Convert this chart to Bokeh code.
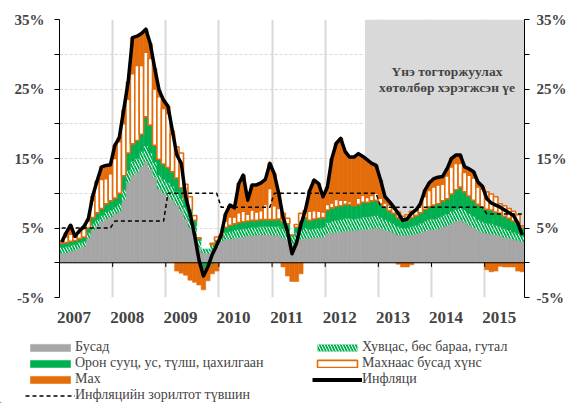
import numpy as np
from bokeh.plotting import figure
from bokeh.layouts import column
from bokeh.models import (Range1d, LinearAxis, FixedTicker, CustomJSTickFormatter,
                          Span, Legend, LegendItem, Label, ColumnDataSource)
from bokeh.embed import file_html
from bokeh.resources import INLINE

# ---------------- data (monthly, Jan 2007 - Sep 2015) ----------------
first_year = 2007
inflation = [3.0, 4.3, 5.4, 3.8, 4.6, 5.2, 6.3, 9.6, 11.8, 13.8, 14.0, 14.1,
             16.9, 18.0, 22.0, 26.0, 32.4, 32.6, 33.0, 33.6, 31.5, 28.0, 24.8, 23.4,
             22.5, 19.0, 15.5, 14.3, 9.5, 7.0, 4.0, 0.4, -1.9, -0.6, 1.2, 2.5,
             4.0, 7.0, 8.3, 7.9, 11.4, 12.6, 9.0, 11.2, 11.2, 11.5, 12.0, 14.3,
             12.8, 10.0, 6.5, 4.5, 1.3, 2.8, 5.5, 7.5, 10.4, 11.9, 11.4, 9.5,
             10.9, 15.0, 17.2, 17.9, 16.0, 15.2, 15.2, 15.7, 15.3, 14.8, 14.3, 14.0,
             11.9, 9.5, 8.8, 8.0, 7.1, 6.1, 6.3, 7.1, 7.6, 8.5, 10.4, 11.5,
             12.1, 12.3, 12.4, 13.5, 15.0, 15.5, 15.5, 13.8, 13.5, 13.1, 11.6, 11.0,
             9.2, 8.6, 8.3, 8.0, 7.6, 7.2, 6.8, 5.7, 4.0]

target_by_year = [5, 6, 10, 8, 10, 10, 8, 8, 7]
months_by_year = [12, 12, 12, 12, 12, 12, 12, 12, 9]

other = [1.3, 1.4, 1.6, 1.8, 2.1, 2.3, 3.5, 4.7, 5.3, 5.9, 6.3, 6.6,
         7.0, 7.3, 9.0, 11.5, 12.6, 13.0, 13.8, 14.5, 13.5, 12.3, 10.6, 10.0,
         9.5, 9.0, 8.3, 7.5, 6.3, 5.0, 4.0, 2.2, 1.4, 1.3, 1.8, 2.2,
         3.0, 3.3, 3.4, 3.5, 3.6, 3.7, 3.8, 3.9, 3.9, 4.0, 4.0, 4.0,
         3.9, 3.9, 3.6, 3.3, 2.6, 3.0, 3.3, 3.5, 3.5, 3.6, 3.6, 3.7,
         4.2, 4.3, 4.3, 4.4, 4.5, 4.6, 4.6, 4.7, 4.8, 4.8, 4.9, 5.0,
         4.9, 4.7, 4.5, 4.3, 4.0, 3.9, 3.9, 4.0, 4.1, 4.3, 4.5, 4.7,
         4.7, 4.9, 5.1, 5.3, 5.6, 5.9, 6.1, 5.8, 5.4, 5.0, 4.6, 4.3,
         4.2, 4.1, 4.0, 3.8, 3.6, 3.5, 3.3, 3.2, 3.0]

clothing = [0.9, 0.9, 0.9, 0.8, 0.8, 0.8, 0.8, 0.9, 0.9, 0.9, 1.0, 1.0,
            1.0, 1.2, 1.5, 1.8, 2.0, 2.0, 2.2, 2.3, 2.3, 2.2, 2.0, 2.0,
            2.0, 2.0, 1.9, 1.8, 1.7, 1.6, 1.3, 1.0, 0.6, 0.7, 0.8, 0.8,
            0.6, 1.0, 1.1, 1.2, 1.2, 1.2, 1.2, 1.2, 1.2, 1.2, 1.2, 1.2,
            1.3, 1.3, 1.3, 1.3, 1.2, 1.3, 1.4, 1.5, 1.3, 1.3, 1.4, 1.4,
            1.6, 1.7, 1.8, 1.8, 1.9, 1.8, 1.7, 1.7, 1.8, 1.8, 1.8, 1.8,
            1.6, 1.5, 1.4, 1.3, 1.2, 1.1, 1.1, 1.2, 1.3, 1.4, 1.5, 1.6,
            1.6, 1.6, 1.7, 1.7, 1.8, 1.8, 1.8, 1.8, 1.7, 1.7, 1.6, 1.6,
            1.5, 1.5, 1.4, 1.4, 1.3, 1.2, 1.1, 1.0, 0.8]

housing = [0.6, 0.6, 0.6, 0.6, 0.6, 0.6, 0.7, 0.9, 1.0, 1.0, 1.2, 1.3,
           1.3, 1.5, 2.0, 2.5, 2.5, 2.6, 2.5, 4.2, 4.0, 2.4, 2.3, 2.2,
           2.2, 2.1, 2.0, 1.5, 1.3, 1.0, 0.8, 0.3, -1.0, -0.6, -0.3, 0.2,
           0.2, 0.8, 0.9, 0.9, 1.0, 1.0, 1.0, 1.0, 1.0, 1.0, 1.0, 1.0,
           1.0, 1.1, 1.0, 1.0, 0.2, 0.8, 1.2, 1.5, 1.3, 1.4, 1.4, 1.4,
           1.8, 1.9, 2.0, 2.0, 2.0, 2.0, 1.9, 2.0, 2.1, 2.1, 2.2, 2.2,
           2.0, 1.8, 1.6, 1.5, 1.3, 1.1, 1.2, 1.3, 1.4, 1.5, 1.7, 1.8,
           2.0, 2.0, 2.1, 2.2, 2.5, 2.8, 3.0, 2.6, 2.5, 2.3, 2.2, 2.1,
           2.0, 2.0, 1.9, 1.9, 1.8, 1.7, 1.6, 1.5, 1.2]

food_nonmeat = [0.2, 0.8, 1.0, 0.5, 0.8, 1.2, 1.0, 2.5, 4.4, 4.2, 3.6, 3.9,
                5.7, 7.4, 7.5, 7.7, 10.1, 10.8, 9.9, 9.3, 9.6, 8.1, 9.0, 8.0,
                7.8, 5.4, 4.5, 5.0, 2.0, 1.9, 0.7, 0.1, -0.4, -0.4, 0.2, 0.5,
                0.2, 0.9, 1.2, 1.0, 1.4, 1.5, 1.0, 1.5, 1.2, 1.3, 2.2, 4.5,
                2.0, 1.5, 1.2, 0.8, 0.0, 0.4, 1.2, 1.0, 1.3, 1.2, 1.0, 0.8,
                0.8, 0.7, 1.0, 0.8, 0.6, 0.4, 0.2, 0.9, 1.0, 0.7, 0.8, 1.0,
                0.8, 0.6, 0.8, 0.7, 0.8, 0.6, 0.7, 0.9, 0.8, 1.0, 1.8, 2.3,
                2.6, 2.7, 2.4, 3.3, 3.9, 3.8, 3.4, 2.8, 3.0, 3.2, 2.5, 2.6,
                2.5, 2.3, 2.2, 1.4, 1.5, 1.4, 1.4, 1.2, 0.3]

meat = [0.0, 0.6, 1.3, 0.1, 0.3, 0.3, 0.3, 0.6, 0.2, 1.8, 1.9, 1.3,
        1.9, 0.6, 2.0, 2.5, 5.2, 4.2, 4.6, 3.3, 2.1, 3.0, 0.9, 1.2,
        1.0, 0.5, -1.2, -1.5, -1.8, -2.5, -2.8, -3.2, -2.5, -1.6, -1.3, -1.2,
        0.0, 1.0, 1.7, 1.3, 4.2, 5.2, 2.0, 3.6, 3.9, 4.0, 3.6, 3.6,
        4.6, 2.2, -0.6, -1.9, -2.7, -2.7, -1.6, 0.0, 3.0, 4.4, 4.0, 2.2,
        2.5, 6.4, 8.1, 8.9, 7.0, 6.4, 6.8, 6.4, 5.6, 5.4, 4.6, 4.0,
        2.6, 0.9, 0.5, 0.2, -0.2, -0.6, -0.6, -0.3, 0.0, 0.3, 0.9, 1.1,
        1.2, 1.1, 1.1, 1.0, 1.2, 1.2, 1.2, 0.8, 0.9, 0.9, 0.7, 0.4,
        -1.0, -1.3, -1.2, -0.5, -0.6, -0.6, -0.6, -1.2, -1.3]

programme_start = (2012, 10)   # price stabilisation programme from Oct 2012

labels = {
    "other": "Бусад",
    "clothing": "Хувцас, бөс бараа, гутал",
    "housing": "Орон сууц, ус, түлш, цахилгаан",
    "food": "Махнаас бусад хүнс",
    "meat": "Мах",
    "infl": "Инфляци",
    "target": "Инфляцийн зорилтот түвшин",
}
note_lines = ["Үнэ тогторжуулах", "хөтөлбөр хэрэгжсэн үе"]

# ---------------- derived ----------------
n = len(inflation)
x = np.arange(n)
target = np.repeat(target_by_year, months_by_year)
prog_idx = (programme_start[0] - first_year) * 12 + programme_start[1] - 1

GREY = "#A6A6A6"
GREEN = "#00B050"
ORANGE = "#E46C0A"
SHADE = "#D9D9D9"
SERIF = "Liberation Serif"

STYLES = {
    "other": dict(fill_color=GREY, line_color=GREY, line_width=0.6),
    "clothing": dict(fill_color=GREEN, line_color=None, hatch_pattern="\\",
                     hatch_color="white", hatch_scale=6, hatch_weight=1.0),
    "housing": dict(fill_color=GREEN, line_color=GREEN, line_width=0.6),
    "food": dict(fill_color="white", line_color=ORANGE, line_width=1.6),
    "meat": dict(fill_color=ORANGE, line_color=ORANGE, line_width=0.6),
}

p = figure(width=570, height=330, output_backend="svg", toolbar_location=None,
           x_range=Range1d(-0.5, n - 0.5), y_range=Range1d(-5, 35),
           min_border_left=59, min_border_right=46, min_border_top=19,
           min_border_bottom=33)
p.outline_line_color = None
p.frame_align = False

# shaded programme period
p.quad(left=[prog_idx - 0.5], right=[n - 0.5], bottom=[0], top=[35],
       fill_color=SHADE, line_color=None)

# stacked bars
series = [("other", other), ("clothing", clothing), ("housing", housing),
          ("food", food_nonmeat), ("meat", meat)]
pos = np.zeros(n)
neg = np.zeros(n)
for key, vals in series:
    v = np.array(vals, dtype=float)
    bottom = np.where(v >= 0, pos, neg)
    top = bottom + v
    pos = np.where(v >= 0, top, pos)
    neg = np.where(v < 0, top, neg)
    src = ColumnDataSource(dict(x=x, bottom=bottom, top=top))
    p.vbar(x="x", bottom="bottom", top="top", width=1.0, source=src, **STYLES[key])

p.line(x, target, line_color="black", line_width=1.5, line_dash="4 3")
p.line(x, inflation, line_color="black", line_width=3.5, line_join="round")

# zero axis and year boundary ticks
p.add_layout(Span(location=0, dimension="width", line_color="black", line_width=1))
bounds = [12 * k - 0.5 for k in range(1, len(months_by_year))]
p.segment(x0=bounds, y0=[0] * len(bounds), x1=bounds, y1=[-0.6] * len(bounds),
          line_color="black", line_width=1)

# note in shaded area
for i, t in enumerate(note_lines):
    p.add_layout(Label(x=87, y=27.45 - 2.25 * i, text=t, text_align="center",
                       text_baseline="middle", text_font=SERIF,
                       text_font_style="bold", text_font_size="13.5px"))

# y axes
yticks = FixedTicker(ticks=list(range(-5, 36, 5)))
yfmt = CustomJSTickFormatter(code="return ((tick + 5) % 10 == 0) ? tick + '%' : '';")
p.yaxis.ticker = yticks
p.yaxis.formatter = yfmt
right = LinearAxis(ticker=yticks, formatter=yfmt)
p.add_layout(right, "right")
for ax, so in ((p.yaxis[0], 10), (right, 7)):
    ax.axis_line_color = "black"
    ax.major_tick_line_color = "black"
    ax.major_tick_out = 5
    ax.major_tick_in = 0
    ax.minor_tick_line_color = None
    ax.major_label_standoff = so
    ax.major_label_text_font = SERIF
    ax.major_label_text_font_style = "bold"
    ax.major_label_text_font_size = "15px"

# x axis (year labels)
p.xaxis.ticker = FixedTicker(ticks=[12 * k + 2.8 for k in range(len(months_by_year))])
p.xaxis.formatter = CustomJSTickFormatter(
    code="return String(%d + Math.floor(tick / 12));" % first_year)
p.xaxis.axis_line_color = None
p.xaxis.major_tick_line_color = None
p.xaxis.minor_tick_line_color = None
p.xaxis.major_label_standoff = 8
p.xaxis.major_label_text_font = SERIF
p.xaxis.major_label_text_font_style = "bold"
p.xaxis.major_label_text_font_size = "17px"

# grids
p.xgrid.ticker = FixedTicker(ticks=bounds)
p.xgrid.grid_line_color = SHADE
p.xgrid.grid_line_width = 2
p.ygrid.grid_line_color = SHADE
p.ygrid.grid_line_dash = "3 2"

# ---------------- legend panel (below the chart) ----------------
lf = figure(width=570, height=73, output_backend="svg", toolbar_location=None,
            x_range=Range1d(0, 570), y_range=Range1d(0, 73),
            min_border_left=0, min_border_right=0, min_border_top=0,
            min_border_bottom=0)
lf.axis.visible = False
lf.grid.visible = False
lf.outline_line_color = None
lf.frame_align = False

# legend proxies: one off-screen mark each, styled like the chart's marks
proxy = {k: lf.vbar(x=[-100], bottom=[0], top=[1], width=1, **STYLES[k]) for k in STYLES}
proxy["target"] = lf.line(x=[-100, -99], y=[0, 0], line_color="black",
                          line_width=1.5, line_dash="4 3")
proxy["infl"] = lf.line(x=[-100, -99], y=[0, 0], line_color="black", line_width=4)

common = dict(padding=0, margin=0, spacing=0, border_line_color=None,
              background_fill_alpha=0, glyph_width=50, glyph_height=9,
              label_height=16, label_standoff=0, label_text_font=SERIF,
              label_text_font_size="14px")
leg1 = Legend(items=[LegendItem(label=labels[k], renderers=[proxy[k]])
                     for k in ("other", "housing", "meat", "target")],
              location=(25, 0), **common)
leg2 = Legend(items=[LegendItem(label=labels[k], renderers=[proxy[k]])
                     for k in ("clothing", "food", "infl")],
              location=(312, 16), **common)
lf.add_layout(leg1)
lf.add_layout(leg2)

open("out.html", "w").write(file_html(column(p, lf, spacing=0), INLINE))
